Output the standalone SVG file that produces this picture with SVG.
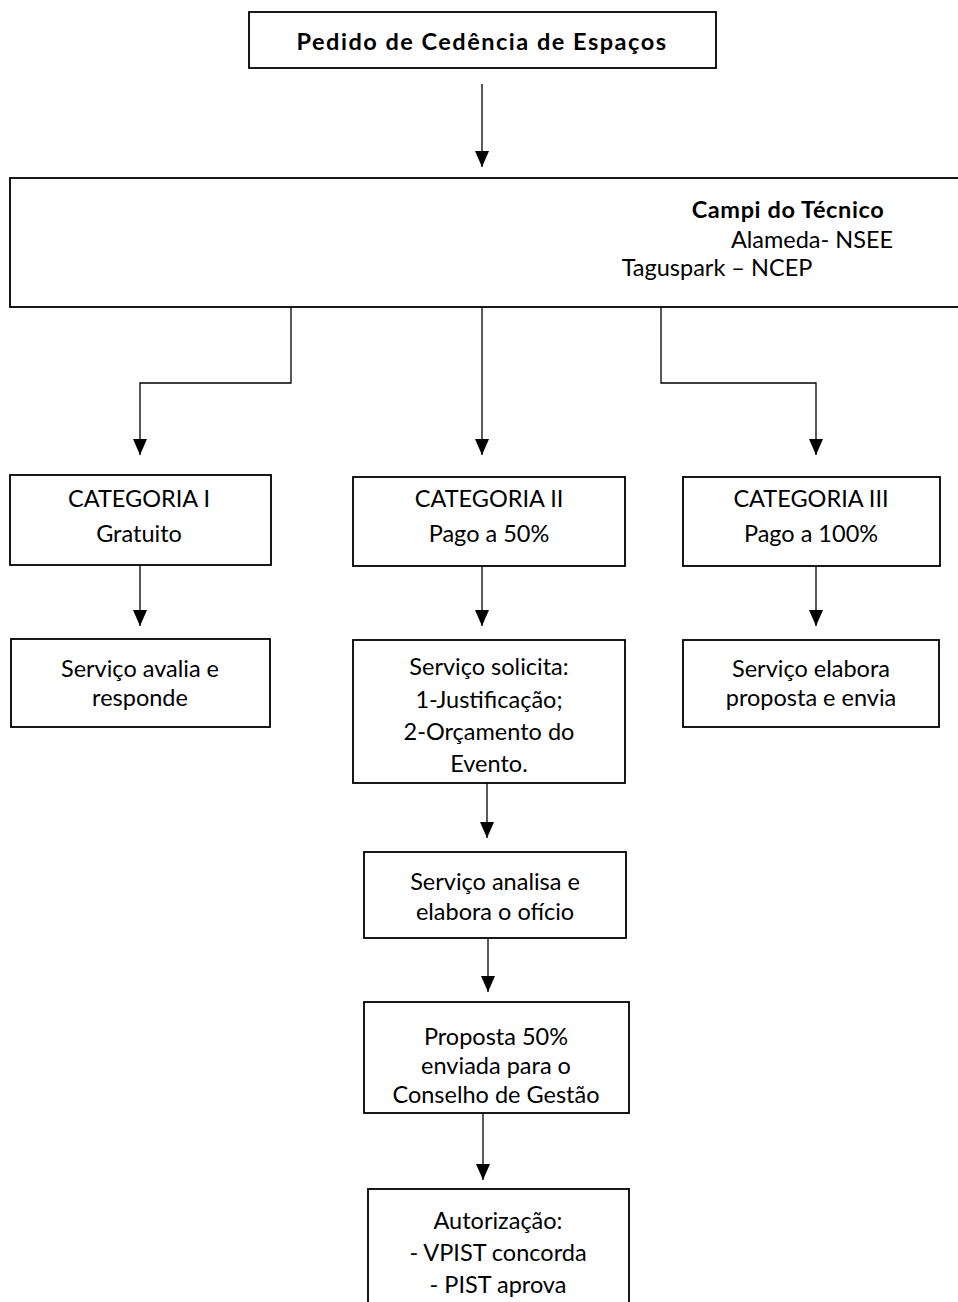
<svg xmlns="http://www.w3.org/2000/svg" width="958" height="1302" viewBox="0 0 958 1302">
<style>
.box{fill:#fff;stroke:#000;stroke-width:1.8}
.t{font-family:Lato,"Open Sans",sans-serif;font-size:23.5px;fill:#000;text-anchor:middle}
.b{font-weight:bold}
.c{fill:none;stroke:#000;stroke-width:1.3}
</style>
<defs>
<marker id="ar" markerUnits="userSpaceOnUse" markerWidth="16" markerHeight="14" refX="16" refY="7" orient="auto" viewBox="0 0 16 14">
<path d="M0,0 L16,7 L0,14 Z" fill="#000"/>
</marker>
</defs>
<g id="connectors">
<path class="c" d="M482,84 V167" marker-end="url(#ar)"/>
<path class="c" d="M291,307 V383 H140 V455" marker-end="url(#ar)"/>
<path class="c" d="M482,307 V455" marker-end="url(#ar)"/>
<path class="c" d="M661,307 V383 H816 V455" marker-end="url(#ar)"/>
<path class="c" d="M140,565 V626" marker-end="url(#ar)"/>
<path class="c" d="M482,566 V626" marker-end="url(#ar)"/>
<path class="c" d="M816,566 V626" marker-end="url(#ar)"/>
<path class="c" d="M487,783 V838" marker-end="url(#ar)"/>
<path class="c" d="M488,938 V992" marker-end="url(#ar)"/>
<path class="c" d="M483,1113 V1180" marker-end="url(#ar)"/>
</g>
<g id="pedido">
<rect class="box" x="249" y="12" width="467" height="56"/>
<text class="t b" x="482" y="50" style="letter-spacing:1.5px">Pedido de Cedência de Espaços</text>
</g>
<g id="campi">
<rect class="box" x="10" y="178" width="960" height="129"/>
<text class="t b" x="788" y="218" style="letter-spacing:0.6px">Campi do Técnico</text>
<text class="t" x="812" y="248">Alameda- NSEE</text>
<text class="t" x="717" y="276">Taguspark – NCEP</text>
</g>
<g id="cat1">
<rect class="box" x="10" y="475" width="261" height="90"/>
<text class="t" x="139" y="507">CATEGORIA I</text>
<text class="t" x="139" y="542">Gratuito</text>
</g>
<g id="cat2">
<rect class="box" x="353" y="477" width="272" height="89"/>
<text class="t" x="489" y="507">CATEGORIA II</text>
<text class="t" x="489" y="542">Pago a 50%</text>
</g>
<g id="cat3">
<rect class="box" x="683" y="477" width="257" height="89"/>
<text class="t" x="811" y="507">CATEGORIA III</text>
<text class="t" x="811" y="542">Pago a 100%</text>
</g>
<g id="servico1">
<rect class="box" x="11" y="639" width="259" height="88"/>
<text class="t" x="140" y="677">Serviço avalia e</text>
<text class="t" x="140" y="706">responde</text>
</g>
<g id="servico2">
<rect class="box" x="353" y="640" width="272" height="143"/>
<text class="t" x="489" y="675">Serviço solicita:</text>
<text class="t" x="489" y="708">1-Justificação;</text>
<text class="t" x="489" y="740">2-Orçamento do</text>
<text class="t" x="489" y="772">Evento.</text>
</g>
<g id="servico3">
<rect class="box" x="683" y="640" width="256" height="87"/>
<text class="t" x="811" y="677">Serviço elabora</text>
<text class="t" x="811" y="706">proposta e envia</text>
</g>
<g id="analisa">
<rect class="box" x="364" y="852" width="262" height="86"/>
<text class="t" x="495" y="890">Serviço analisa e</text>
<text class="t" x="495" y="920">elabora o ofício</text>
</g>
<g id="proposta">
<rect class="box" x="364" y="1002" width="265" height="111"/>
<text class="t" x="496" y="1045">Proposta 50%</text>
<text class="t" x="496" y="1074">enviada para o</text>
<text class="t" x="496" y="1103">Conselho de Gestão</text>
</g>
<g id="autorizacao">
<rect class="box" x="368" y="1189" width="261" height="130"/>
<text class="t" x="498" y="1229">Autorização:</text>
<text class="t" x="498" y="1261">- VPIST concorda</text>
<text class="t" x="498" y="1293">- PIST aprova</text>
</g>
</svg>
